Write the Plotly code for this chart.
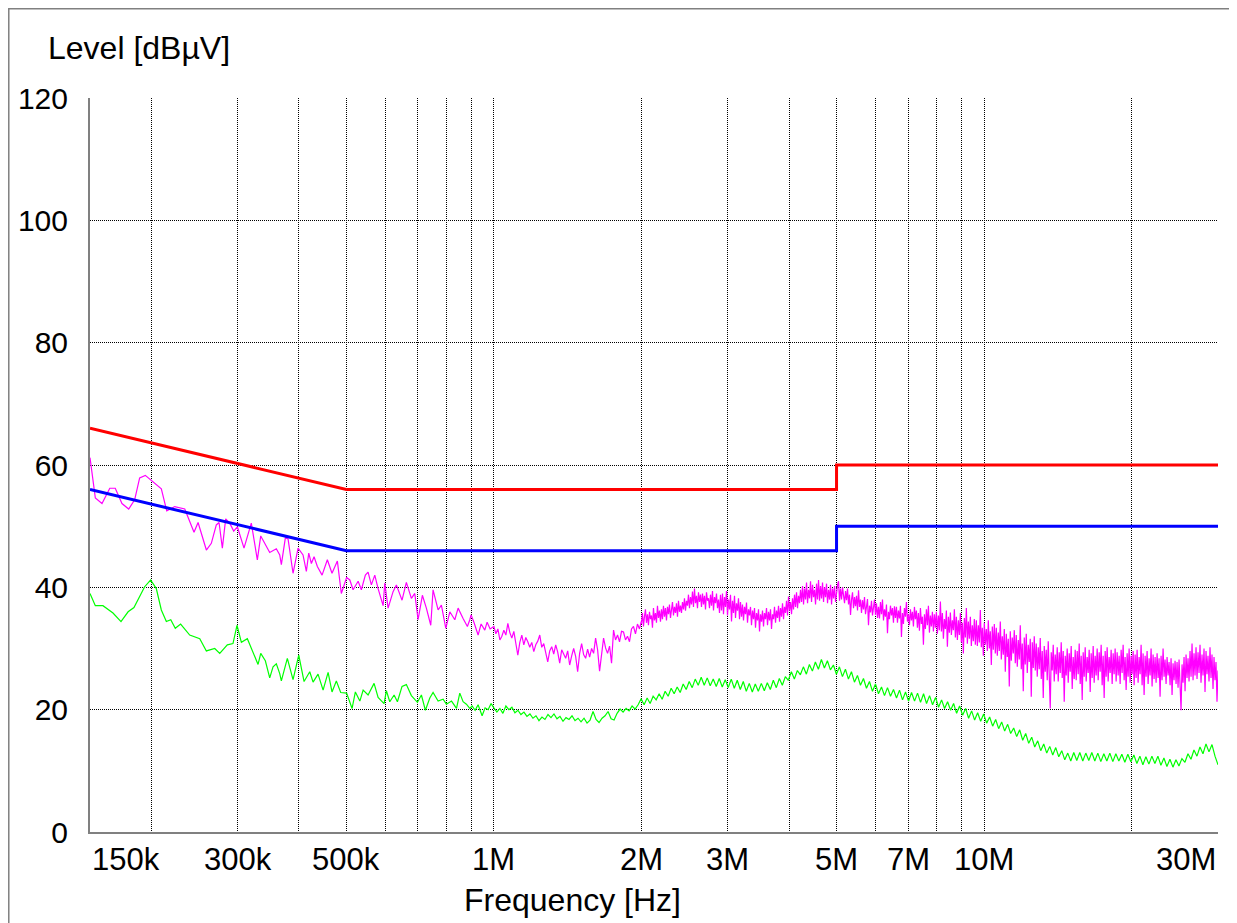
import numpy as np
import plotly.graph_objects as go

FONT = "Liberation Sans, Arial, sans-serif"

# CISPR 22 class B limit lines (frequency in Hz, level in dBuV)
LIMIT_F_HZ = [150e3, 500e3, 5e6, 5e6, 30e6]
QP_LIMIT = [66, 56, 56, 60, 60]
AV_LIMIT = [56, 46, 46, 50, 50]

# peak detector trace, 150 kHz - 1 MHz (read point by point)
PEAK_LF_KHZ = [
    150.0, 153.8, 158.7, 164.6, 168.9, 174.3, 179.9, 185.0, 189.4, 194.5,
    209.7, 215.1, 223.3, 234.1, 244.5, 249.2, 259.1, 265.2, 271.5, 275.0,
    279.3, 283.7, 289.2, 294.6, 299.7, 309.2, 320.0, 329.2, 334.5, 348.9,
    359.9, 365.7, 368.5, 375.5, 380.3, 389.3, 398.6, 408.0, 414.4, 419.1,
    424.3, 429.7, 436.4, 446.2, 457.4, 467.5, 479.4, 488.4, 500.7, 508.3,
    516.1, 528.5, 536.6, 546.8, 553.8, 562.4, 571.5, 580.5, 594.3, 599.0,
    608.4, 622.8, 632.5, 649.6, 662.9, 678.7, 689.6, 700.4, 714.7, 728.2,
    743.4, 751.5, 769.5, 781.5, 797.8, 813.0, 832.3, 845.3, 865.3, 882.9,
    893.0, 898.5, 911.2, 928.5, 941.7, 958.2, 968.7, 982.4,
]
PEAK_LF_DB = [
    61.2, 54.6, 53.7, 56.2, 56.2, 53.7, 52.8, 54.3, 57.9, 58.3,
    56.1, 52.5, 53.2, 52.8, 49.0, 50.6, 46.1, 47.2, 50.2, 50.6,
    46.4, 51.2, 50.5, 49.2, 49.9, 46.4, 50.5, 44.5, 48.4, 45.7,
    46.3, 45.3, 43.7, 48.1, 47.9, 42.3, 46.4, 45.3, 42.6, 45.6,
    43.9, 45.0, 43.4, 42.0, 44.5, 42.3, 44.3, 39.0, 41.6, 41.2,
    39.6, 41.0, 39.6, 42.0, 42.5, 40.4, 42.0, 39.8, 37.0, 40.7,
    36.6, 39.3, 40.4, 37.9, 40.8, 38.2, 39.0, 34.7, 38.7, 36.6,
    33.8, 39.6, 36.3, 37.1, 33.3, 36.0, 34.7, 36.6, 34.9, 33.6,
    34.7, 35.5, 34.2, 32.2, 34.0, 33.0, 34.3, 33.2,
]

# peak detector trace, 1 - 2 MHz sweep (log spaced points)
PEAK_1_2_DB = [
    33.6, 32.4, 33.2, 31.4, 32.0, 33.0, 32.2, 34.1, 32.6, 31.7,
    32.8, 30.8, 28.9, 31.0, 32.2, 30.6, 31.8, 31.1, 30.2, 31.0,
    29.5, 30.6, 31.2, 32.2, 30.2, 30.8, 29.0, 27.8, 29.6, 30.3,
    29.1, 30.6, 29.4, 27.6, 29.8, 29.2, 28.4, 29.6, 27.3, 28.8,
    30.0, 28.7, 26.2, 29.2, 30.8, 29.0, 28.4, 29.9, 28.6, 30.0,
    29.2, 31.7, 29.8, 26.3, 29.4, 31.7, 30.1, 29.2, 30.4, 27.6,
    33.0, 31.4, 32.2, 31.1, 32.8, 32.7, 31.4, 32.0, 31.1, 33.2,
    33.6, 32.4, 34.0, 33.2, 34.5,
]

# peak detector trace, 2 - 5 MHz sweep (log spaced points, denser)
PEAK_2_5_DB = [
    34.0, 35.8, 33.6, 35.2, 36.4, 34.2, 35.6, 33.8, 36.0, 34.8,
    35.4, 33.4, 36.6, 34.6, 35.8, 34.2, 37.0, 35.0, 36.2, 34.4,
    36.4, 34.8, 37.0, 35.2, 36.6, 34.6, 36.8, 35.6, 37.2, 35.0,
    36.2, 37.6, 35.4, 36.8, 35.8, 37.4, 35.2, 37.8, 36.0, 37.0,
    35.8, 37.6, 36.4, 38.2, 36.2, 37.8, 37.0, 38.8, 36.6, 38.4,
    37.2, 39.3, 36.8, 39.8, 37.4, 38.6, 36.6, 39.2, 37.6, 38.8,
    36.8, 39.0, 37.2, 38.6, 36.4, 39.2, 37.8, 38.2, 36.6, 38.8,
    37.0, 39.4, 36.2, 38.4, 37.4, 39.0, 36.6, 38.0, 35.8, 38.8,
    36.2, 39.0, 35.6, 38.4, 36.8, 39.4, 35.4, 38.0, 36.4, 38.8,
    34.4, 37.8, 35.8, 38.6, 35.0, 37.4, 36.2, 38.2, 34.8, 37.6,
    35.2, 37.2, 34.6, 36.8, 35.6, 37.5, 34.2, 36.4, 35.4, 36.8,
    33.8, 36.2, 34.8, 36.6, 33.4, 35.8, 34.6, 36.4, 32.8, 35.6,
    34.4, 36.2, 33.6, 35.8, 34.8, 36.6, 33.8, 36.0, 34.6, 36.4,
    33.2, 35.6, 34.8, 36.8, 34.2, 36.2, 35.0, 37.0, 34.4, 36.6,
    35.2, 37.4, 34.8, 36.8, 35.8, 37.8, 35.4, 38.5, 36.2, 37.6,
    35.6, 38.2, 36.4, 38.8, 36.8, 39.2, 36.6, 38.6, 37.4, 39.6,
    37.6, 40.2, 37.2, 39.8, 38.0, 40.8, 37.4, 39.6, 38.2, 41.0,
    37.6, 40.4, 38.4, 39.6, 37.2, 40.6, 38.0, 41.2, 37.8, 40.2,
    38.2, 40.8, 37.6, 40.0, 38.4, 40.6, 37.4, 39.6, 38.0, 40.4,
    37.2, 39.8, 38.2, 40.2, 37.6, 39.4,
]

# peak detector trace, 5 - 30 MHz sweep (log spaced points, denser)
PEAK_5_30_DB = [
    39.2, 40.4, 41.0, 37.8, 39.8, 38.0, 40.0, 38.4, 37.4, 39.4,
    37.9, 39.8, 37.2, 38.8, 35.5, 38.0, 39.2, 36.6, 38.4, 36.9,
    38.6, 36.2, 39.5, 36.8, 38.0, 35.8, 37.9, 36.4, 38.4, 35.6,
    37.2, 38.1, 33.8, 37.0, 35.9, 37.8, 35.4, 36.8, 38.0, 35.5,
    37.4, 35.0, 36.8, 34.9, 37.6, 35.6, 38.0, 34.6, 36.4, 35.2,
    37.2, 32.5, 36.0, 34.8, 37.0, 35.4, 36.6, 34.2, 36.9, 35.0,
    36.8, 34.2, 36.2, 34.9, 37.0, 31.9, 35.8, 34.0, 36.6, 35.2,
    37.6, 34.4, 35.6, 33.8, 36.4, 34.6, 36.0, 33.6, 36.8, 34.8,
    36.2, 33.4, 35.8, 32.9, 36.6, 34.0, 35.2, 30.6, 35.6, 33.2,
    36.4, 33.8, 37.0, 32.6, 35.4, 33.6, 36.0, 32.8, 35.6, 33.4,
    36.0, 32.4, 35.4, 33.0, 37.7, 32.8, 35.8, 31.6, 34.8, 33.2,
    36.2, 30.3, 35.2, 32.6, 35.9, 32.2, 34.6, 33.0, 36.4, 31.8,
    35.2, 31.4, 34.6, 32.2, 35.8, 31.0, 34.2, 29.2, 35.0, 31.8,
    36.6, 30.8, 34.4, 31.6, 35.2, 30.4, 33.8, 31.2, 34.8, 30.6,
    34.6, 30.4, 33.8, 31.0, 36.3, 30.2, 33.4, 28.8, 34.2, 30.6,
    33.2, 29.6, 34.6, 30.0, 32.8, 27.3, 33.6, 29.8, 34.0, 29.2,
    33.4, 28.8, 32.6, 29.6, 34.4, 28.2, 32.0, 29.0, 33.2, 26.2,
    32.4, 28.6, 31.6, 23.8, 32.8, 28.0, 31.8, 29.2, 33.0, 27.6,
    32.2, 27.0, 31.4, 28.2, 33.8, 26.6, 30.8, 23.0, 31.8, 27.4,
    32.4, 26.0, 30.6, 27.8, 31.6, 22.1, 31.0, 26.8, 32.0, 26.4,
    30.8, 25.4, 30.2, 26.6, 31.7, 25.0, 29.6, 21.9, 30.4, 26.2,
    29.8, 24.8, 31.2, 25.6, 20.2, 29.4, 26.4, 30.6, 24.6, 29.0,
    25.8, 30.2, 24.6, 29.4, 26.0, 31.0, 25.2, 29.6, 21.3, 28.8,
    25.6, 30.0, 24.4, 29.2, 26.2, 30.4, 23.4, 28.6, 25.0, 29.8,
    24.8, 29.6, 25.8, 30.8, 24.2, 28.8, 21.6, 29.4, 25.4, 30.2,
    24.6, 28.6, 26.0, 29.8, 22.9, 29.2, 25.2, 30.4, 24.4, 28.8,
    25.6, 30.0, 24.8, 29.4, 26.2, 30.6, 24.0, 28.8, 21.9, 29.6,
    25.4, 30.2, 24.6, 28.6, 26.0, 29.8, 24.2, 29.2, 25.8, 30.0,
    24.6, 29.4, 25.6, 28.8, 24.2, 29.8, 26.0, 30.6, 24.8, 28.6,
    23.2, 29.2, 25.4, 30.0, 24.4, 28.8, 25.8, 29.6, 24.0, 29.0,
    25.2, 29.8, 24.4, 28.6, 25.8, 30.6, 24.0, 29.2, 22.4, 28.8,
    25.4, 29.6, 24.2, 28.4, 25.6, 30.0, 23.8, 29.0, 25.0, 28.6,
    24.4, 29.2, 25.2, 28.4, 22.1, 28.8, 24.8, 30.0, 25.4, 28.2,
    24.2, 28.6, 25.6, 27.8, 24.0, 28.4, 22.4, 27.6, 24.8, 28.0,
    24.2, 27.8, 23.6, 28.2, 25.0, 19.9, 27.4, 24.4, 28.6, 23.0,
    29.0, 25.2, 28.4, 24.6, 29.6, 25.4, 30.8, 24.8, 29.2, 25.6,
    30.2, 25.0, 29.4, 26.0, 30.6, 24.4, 29.0, 25.6, 30.0, 22.9,
    29.6, 25.8, 28.8, 24.6, 30.2, 25.2, 29.0, 23.4, 28.6, 24.8,
    27.8, 21.3, 26.4,
]

# average detector trace, 150 kHz - 1 MHz
AVG_LF_KHZ = [
    150.0, 153.8, 159.4, 167.1, 173.5, 179.4, 184.4, 193.9, 199.4, 204.8,
    209.7, 214.7, 219.2, 223.9, 229.6, 239.6, 251.2, 259.1, 269.5, 275.9,
    285.9, 293.6, 299.2, 305.4, 314.1, 322.7, 330.3, 334.5, 341.8, 348.9,
    354.4, 359.9, 365.7, 368.5, 379.0, 389.3, 399.9, 410.0, 421.1, 427.7,
    437.8, 448.3, 459.0, 467.5, 477.1, 487.0, 500.7, 513.7, 521.7, 532.8,
    541.1, 553.8, 569.6, 580.5, 597.0, 603.5, 613.2, 625.8, 635.6, 649.6,
    662.9, 678.7, 698.3, 711.4, 724.9, 740.0, 751.5, 769.5, 787.8, 800.1,
    819.5, 839.0, 852.0, 865.3, 878.8, 893.0, 902.7, 915.5, 928.5, 946.1,
    959.6, 973.3, 986.9,
]
AVG_LF_DB = [
    39.0, 37.0, 37.0, 35.8, 34.4, 36.0, 36.7, 40.1, 41.2, 39.8,
    36.3, 34.4, 34.7, 33.3, 34.0, 32.2, 31.6, 29.6, 30.0, 29.2,
    30.6, 30.8, 33.8, 31.0, 31.6, 29.5, 27.4, 29.2, 28.0, 25.2,
    27.0, 27.5, 25.9, 24.7, 28.4, 24.9, 28.9, 24.6, 26.2, 24.5,
    25.8, 23.2, 26.1, 22.9, 24.7, 22.8, 22.7, 20.2, 22.9, 21.4,
    23.2, 22.4, 24.3, 22.0, 21.0, 23.1, 21.3, 22.4, 21.3, 23.8,
    24.1, 22.3, 21.2, 22.4, 19.9, 21.9, 22.8, 21.4, 21.7, 20.9,
    21.4, 20.2, 22.7, 21.3, 20.9, 20.2, 20.6, 19.9, 20.8, 19.0,
    20.3, 20.0, 21.0,
]

# average detector trace, 1 - 30 MHz sweep (log spaced points)
AVG_HF_DB = [
    20.3, 19.6, 20.2, 19.4, 20.6, 20.0, 20.4, 19.5, 19.9, 19.2,
    19.6, 18.9, 19.3, 18.6, 19.0, 18.2, 18.8, 18.4, 19.2, 18.7,
    19.3, 18.5, 18.9, 18.1, 18.7, 18.4, 19.0, 18.2, 18.6, 18.0,
    18.6, 17.8, 18.3, 19.7, 18.4, 17.9, 18.6, 19.0, 19.7, 18.5,
    18.3, 19.4, 20.1, 19.6, 20.2, 19.8, 20.6, 20.1, 20.8, 21.8,
    20.8, 21.9, 21.0, 22.2, 21.6, 22.6, 21.7, 23.0, 22.2, 23.5,
    22.6, 23.7, 22.8, 24.2, 23.3, 24.6, 23.6, 25.0, 24.0, 25.3,
    24.0, 25.2, 23.9, 25.0, 23.8, 25.1, 23.7, 24.9, 23.6, 25.0,
    23.5, 24.8, 23.3, 24.6, 23.0, 24.3, 22.9, 24.2, 23.0, 24.3,
    23.1, 24.4, 23.3, 24.8, 23.6, 25.1, 24.0, 25.4, 24.8, 26.2,
    25.0, 26.4, 25.7, 27.0, 25.8, 27.4, 26.3, 27.8, 26.6, 28.2,
    26.8, 28.0, 26.5, 27.3, 25.8, 27.0, 25.4, 26.6, 25.0, 26.2,
    24.5, 25.6, 24.0, 25.1, 23.5, 24.6, 23.0, 24.2, 22.6, 23.7,
    22.3, 23.6, 22.2, 23.3, 21.9, 23.2, 21.6, 22.9, 21.4, 22.8,
    21.4, 22.7, 21.2, 22.6, 21.0, 22.3, 20.8, 22.0, 20.4, 21.6,
    20.2, 21.3, 19.9, 21.0, 19.4, 20.6, 19.1, 20.2, 18.6, 19.8,
    18.3, 19.5, 18.1, 19.3, 17.8, 18.8, 17.3, 18.4, 16.9, 18.0,
    16.5, 17.6, 16.1, 17.0, 15.6, 16.7, 15.0, 16.1, 14.5, 15.5,
    13.9, 14.9, 13.3, 14.4, 12.9, 14.0, 12.6, 13.8, 12.3, 13.3,
    11.8, 12.9, 11.6, 13.0, 11.7, 13.0, 11.6, 12.9, 11.7, 13.0,
    11.6, 12.9, 11.5, 12.8, 11.6, 12.9, 11.5, 12.8, 11.6, 12.7,
    11.4, 12.7, 11.5, 12.6, 11.2, 12.4, 11.0, 12.3, 11.1, 12.4,
    11.2, 12.4, 10.9, 12.1, 10.7, 11.9, 10.6, 11.8, 10.8, 12.0,
    11.4, 12.8, 11.9, 13.4, 12.4, 13.9, 12.8, 14.4, 13.1, 14.3,
    12.4, 11.0,
]

# axis ticks / grid
GRID_FREQS = [200e3, 300e3, 400e3, 500e3, 600e3, 700e3, 800e3, 900e3,
              1e6, 2e6, 3e6, 4e6, 5e6, 6e6, 7e6, 8e6, 9e6, 10e6, 20e6, 30e6]
TICK_FREQS = [150e3, 300e3, 500e3, 1e6, 2e6, 3e6, 5e6, 7e6, 10e6, 30e6]
TICK_TEXT = ["150k", "300k", "500k", "1M", "2M", "3M", "5M", "7M", "10M", "30M"]
Y_TICKS = [0, 20, 40, 60, 80, 100, 120]

F_START, F_STOP = 150e3, 30e6

peak_f = ([f * 1e3 for f in PEAK_LF_KHZ]
          + list(np.geomspace(1e6, 2e6, len(PEAK_1_2_DB)))
          + list(np.geomspace(2e6, 5e6, len(PEAK_2_5_DB)))
          + list(np.geomspace(5e6, F_STOP, len(PEAK_5_30_DB))))
peak_db = PEAK_LF_DB + PEAK_1_2_DB + PEAK_2_5_DB + PEAK_5_30_DB
avg_f = [f * 1e3 for f in AVG_LF_KHZ] + list(np.geomspace(1e6, F_STOP, len(AVG_HF_DB)))
avg_db = AVG_LF_DB + AVG_HF_DB

fig = go.Figure()
fig.add_trace(go.Scatter(x=peak_f, y=peak_db, mode="lines",
                         line=dict(color="#FF00FF", width=1.2), name="Peak"))
fig.add_trace(go.Scatter(x=avg_f, y=avg_db, mode="lines",
                         line=dict(color="#00FF00", width=1.2), name="Average"))
fig.add_trace(go.Scatter(x=LIMIT_F_HZ, y=QP_LIMIT, mode="lines",
                         line=dict(color="#FF0000", width=3), name="QP limit"))
fig.add_trace(go.Scatter(x=LIMIT_F_HZ, y=AV_LIMIT, mode="lines",
                         line=dict(color="#0000FF", width=3), name="AV limit"))

# x tick labels as annotations (end labels sit inside the plot edges)
for i, (f, txt) in enumerate(zip(TICK_FREQS, TICK_TEXT)):
    anchor = "left" if i == 0 else "right" if i == len(TICK_FREQS) - 1 else "center"
    fig.add_annotation(x=np.log10(f), xref="x", y=0, yref="paper",
                       text=txt, showarrow=False, xanchor=anchor, yanchor="top",
                       yshift=-8, font=dict(family=FONT, size=31, color="black"))

fig.add_annotation(x=0.428, xref="paper", y=-0.065, yref="paper",
                   text="Frequency [Hz]", showarrow=False, xanchor="center",
                   yanchor="top", font=dict(family=FONT, size=32, color="black"))
fig.add_annotation(x=-0.039, xref="paper", y=1.068, yref="paper",
                   text="Level [dBµV]", showarrow=False, xanchor="left",
                   yanchor="middle", font=dict(family=FONT, size=32, color="black"))

# outer frame of the picture
fig.add_shape(type="rect", xref="paper", yref="paper",
              x0=-0.072, x1=1.0155, y0=-0.14, y1=1.1216,
              line=dict(color="#808080", width=1.5))

grid = dict(showgrid=True, gridcolor="#000000", gridwidth=1, griddash="1px,1px")

fig.update_xaxes(type="log", range=[np.log10(F_START), np.log10(F_STOP)],
                 tickmode="array", tickvals=GRID_FREQS, showticklabels=False,
                 showline=True, linecolor="#808080", linewidth=2, zeroline=False,
                 ticks="", automargin=False, **grid)
fig.update_yaxes(range=[0, 120], tickmode="array", tickvals=Y_TICKS,
                 showline=True, linecolor="#808080", linewidth=2, zeroline=False,
                 ticks="", ticklabelstandoff=14, automargin=False,
                 tickfont=dict(family=FONT, size=30, color="black"), **grid)

# the page adds an 8 px body margin, so the figure is 8 px smaller each way
fig.update_layout(
    width=1229, height=915,
    margin=dict(l=82, r=19, t=90, b=91),
    paper_bgcolor="white", plot_bgcolor="white",
    showlegend=False,
    font=dict(family=FONT, color="black"),
)

fig.write_html("out.html")
